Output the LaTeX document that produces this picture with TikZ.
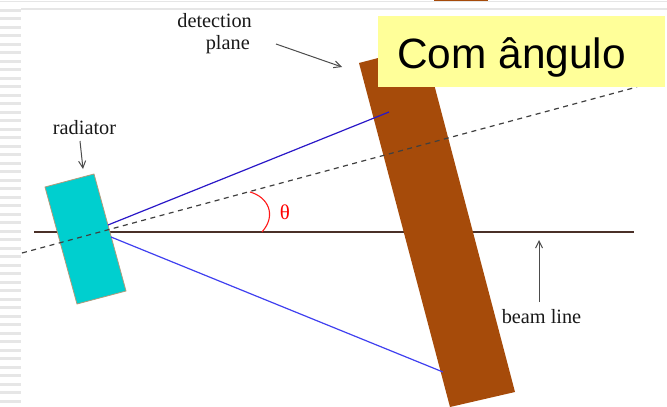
\documentclass[tikz,border=0pt]{standalone}
\usepackage{fontspec}
\setmainfont{Liberation Serif}
\newfontfamily\boxfont{Liberation Sans}
\usetikzlibrary{arrows.meta}
\definecolor{radcol}{HTML}{00CFCF}
\definecolor{radedge}{HTML}{B09A7A}
\definecolor{detcol}{HTML}{A64B0A}
\definecolor{boxcol}{HTML}{FFFF99}
\definecolor{beamcol}{HTML}{4A3028}
\definecolor{stripecol}{HTML}{E6E6E6}
\definecolor{bluea}{HTML}{2A18C8}
\definecolor{blueb}{HTML}{4040F0}
\tikzset{
  lbl/.style={font=\fontsize{20.3}{23}\selectfont,inner sep=0pt,text=black!90},
  pointer/.style={draw=black!70,line width=1pt,-{Straight Barb[length=7pt,width=7pt]}},
  stripe/.style={stripecol,line width=3pt},
  rule/.style={stripecol,line width=1.6pt}
}
\begin{document}
\begin{tikzpicture}[x=1pt,y=-1pt]
\useasboundingbox (0,0) rectangle (667,407);
\fill[white] (0,0) rectangle (667,407);
% decorative slide background
\foreach \k in {0,...,46}{\draw[stripe] (0,{10+8.5*\k}) -- (21,{10+8.5*\k});}
\draw[rule] (0,1.5) -- (667,1.5);
\draw[rule] (21,9) -- (667,9);
\fill[detcol] (434,0) rectangle (488,1);
% beam line
\coordinate (beamL) at (34,232);
\coordinate (beamR) at (634,232);
\draw[beamcol,line width=1.2pt] (beamL) -- (beamR);
% radiator
\coordinate (ra) at (45,187);
\coordinate (rb) at (94,174);
\coordinate (rc) at (126,291);
\coordinate (rd) at (77,304);
\draw[radedge,fill=radcol,line width=0.8pt] (ra) -- (rb) -- (rc) -- (rd) -- cycle;
% rays
\coordinate (upS) at (108,225);
\coordinate (upE) at (389,112);
\coordinate (loS) at (111,237);
\coordinate (loE) at (443,372);
% detection plane
\coordinate (da) at (359,63);
\coordinate (db) at (424,46);
\coordinate (dc) at (515,392);
\coordinate (dd) at (450,407);
\fill[detcol] (da) -- (db) -- (dc) -- (dd) -- cycle;
\draw[bluea,line width=1.2pt] (upS) -- (upE);
\draw[blueb,line width=1.2pt] (loS) -- (loE);
% dashed axis
\coordinate (axL) at (22,253);
\coordinate (axR) at (637,87);
\draw[black!75,line width=1.2pt,dash pattern=on 5pt off 4.5pt] (axL) -- (axR);
% angle
\coordinate (arcA) at (250,192);
\coordinate (arcB) at (262,232);
\draw[red!90!white,line width=1.1pt] (arcA) .. controls (268,197) and (277,215) .. (arcB);
\node[text=red,inner sep=0pt,font=\fontsize{21}{23}\selectfont] (theta) at (285,212) {θ};
% labels
\node[lbl] (radl) at (84.5,128) {radiator};
\node[lbl,anchor=base east] (detl) at (252,27) {detection};
\node[lbl,anchor=base east] (detm) at (250,49) {plane};
\node[lbl] (beaml) at (541.5,317) {beam line};
\coordinate (radA) at (80,141);
\coordinate (radB) at (83,169);
\draw[pointer] (radA) -- (radB);
\coordinate (detA) at (276,44);
\coordinate (detB) at (342,67);
\draw[pointer] (detA) -- (detB);
\coordinate (beamA) at (539,302);
\coordinate (beamB) at (539,240);
\draw[pointer] (beamA) -- (beamB);
% yellow title
\node[fill=boxcol,minimum width=287pt,minimum height=71pt,inner sep=0pt,anchor=north west] (title) at (378,16) {};
\node[font=\boxfont\fontsize{42.4}{48}\selectfont,inner sep=0pt,anchor=base west] (titletext) at (397,68) {Com ângulo};
\end{tikzpicture}
\end{document}
